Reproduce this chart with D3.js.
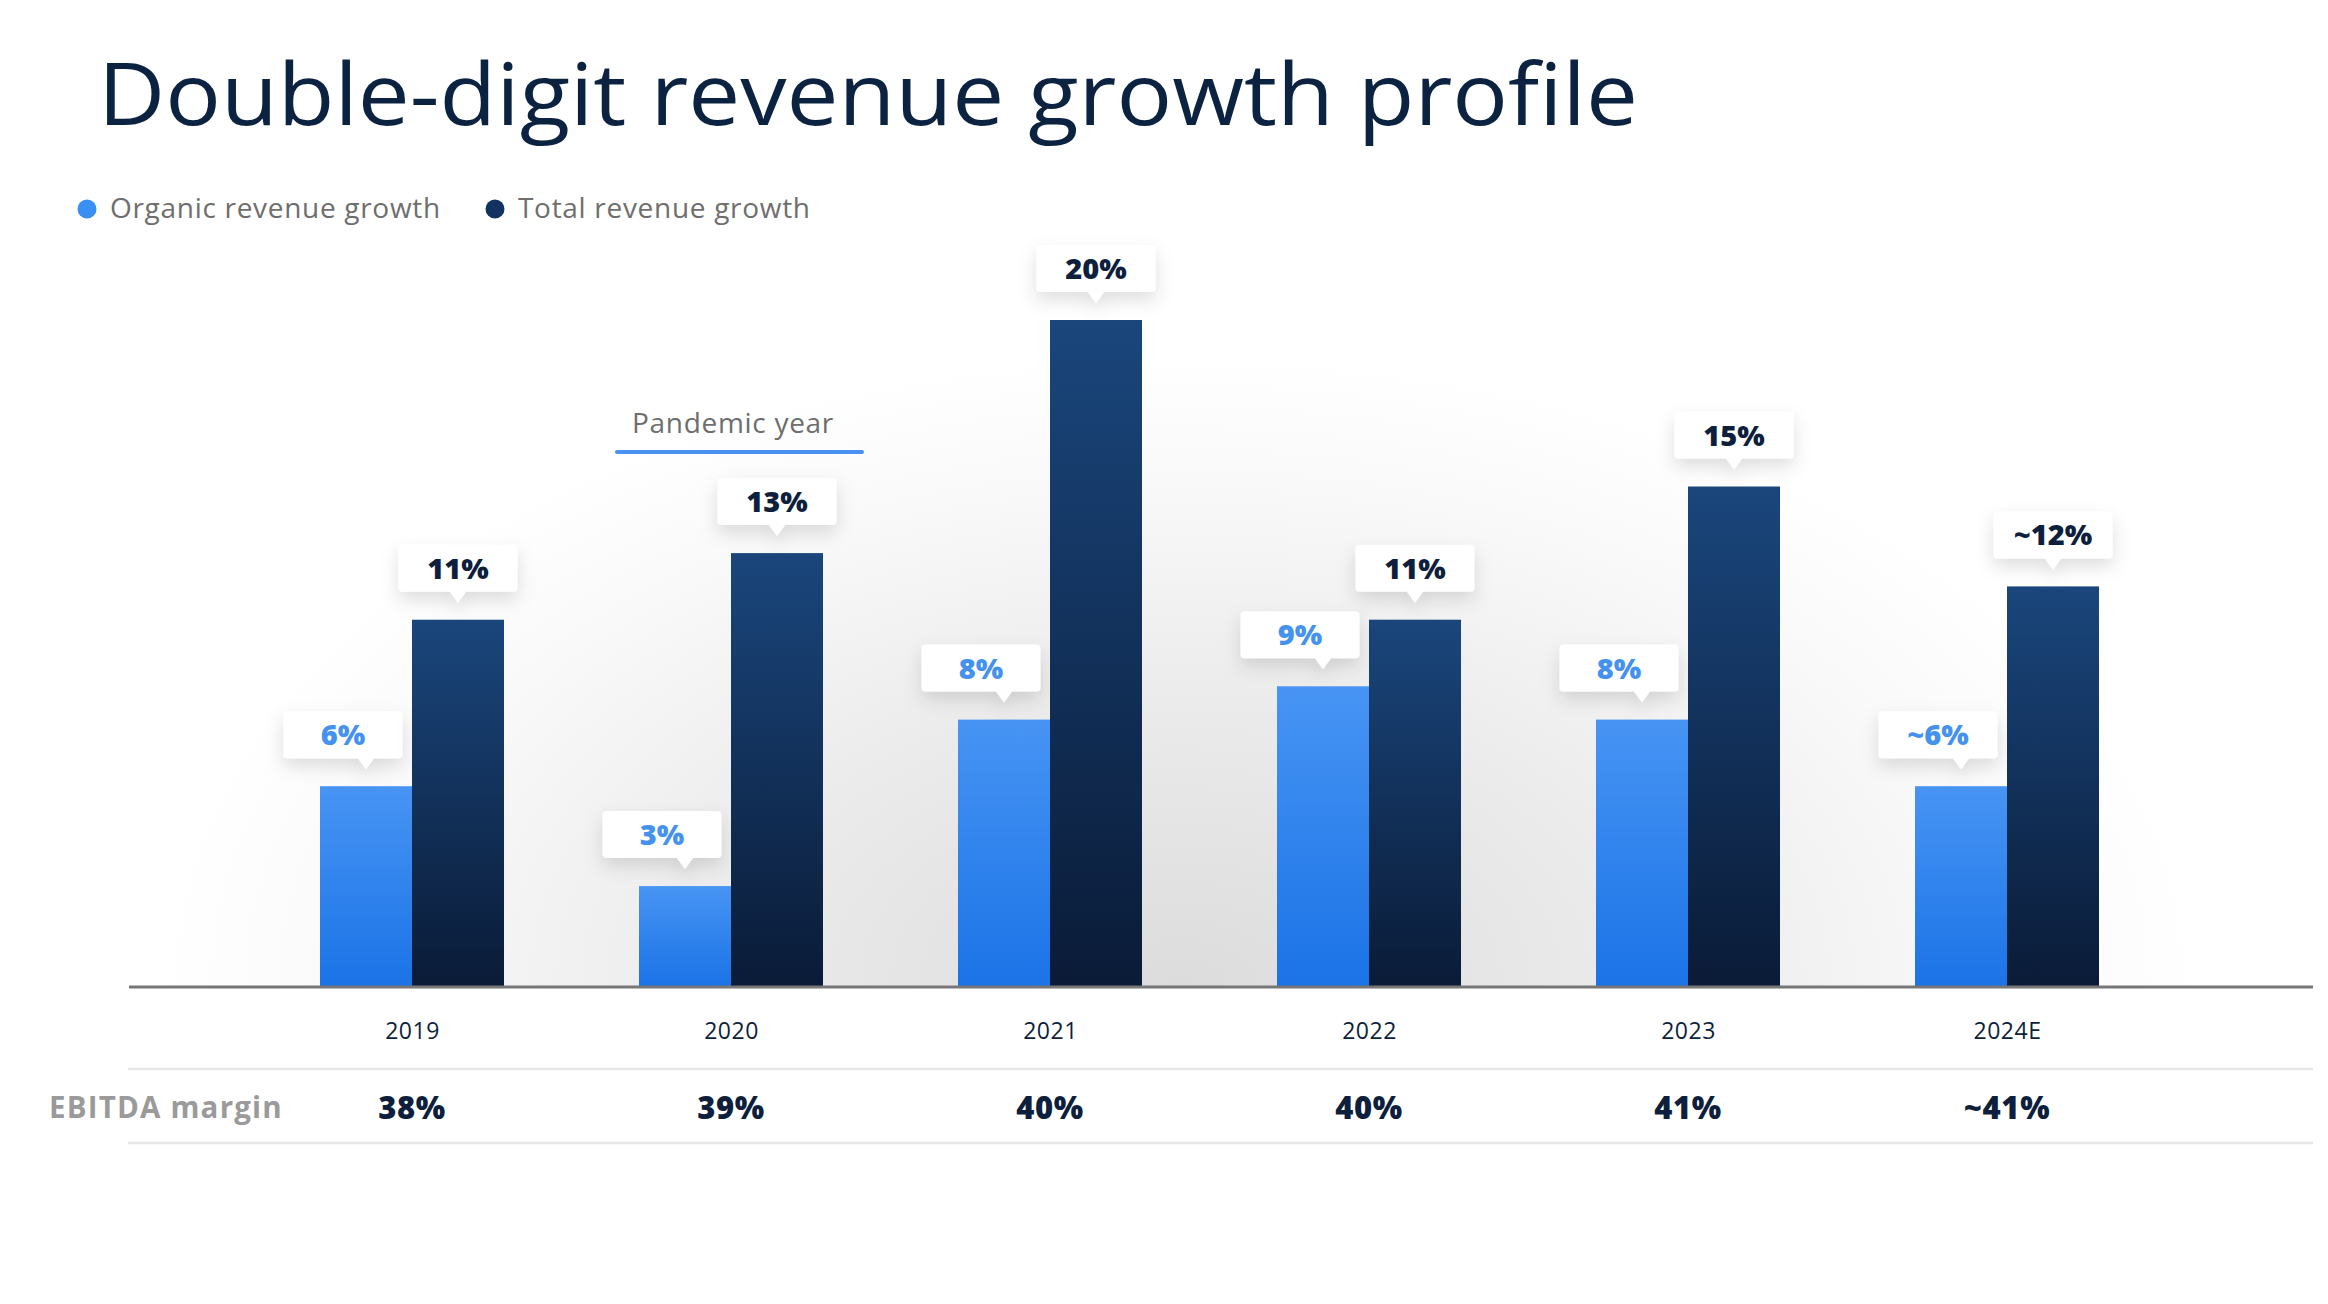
<!DOCTYPE html>
<html>
<head>
<meta charset="utf-8">
<script src="https://cdn.jsdelivr.net/npm/d3@7"></script>
<style>
  html, body { margin: 0; padding: 0; background: #ffffff; }
  svg { display: block; }
</style>
</head>
<body>
<div id="chart"></div>
<script>
// ---- Data ----
const years = ["2019", "2020", "2021", "2022", "2023", "2024E"];
const organicGrowth = [6, 3, 8, 9, 8, 6];
const totalGrowth = [11, 13, 20, 11, 15, 12];
const organicLabels = ["6%", "3%", "8%", "9%", "8%", "~6%"];
const totalLabels = ["11%", "13%", "20%", "11%", "15%", "~12%"];
const ebitdaMargin = ["38%", "39%", "40%", "40%", "41%", "~41%"];
const seriesNames = ["Organic revenue growth", "Total revenue growth"];
const yDomain = [0, 20];

// ---- Layout ----
const W = 2328, H = 1304;
const FONT = "'Open Sans', 'Noto Sans', sans-serif";
const NAVY = "#0d1f3c";
const BLUE_TXT = "#4592ee";
const baseY = 986;

const svg = d3.select("#chart").append("svg")
  .attr("width", W).attr("height", H)
  .attr("viewBox", `0 0 ${W} ${H}`);

const defs = svg.append("defs");

// background glow
const glow = defs.append("radialGradient").attr("id", "glow")
  .attr("gradientUnits", "userSpaceOnUse")
  .attr("cx", 1180).attr("cy", 986).attr("r", 1020)
  .attr("gradientTransform", "translate(1180,986) scale(1,0.62) translate(-1180,-986)");
glow.append("stop").attr("offset", "0%").attr("stop-color", "#dcdcdc");
glow.append("stop").attr("offset", "45%").attr("stop-color", "#ebebeb");
glow.append("stop").attr("offset", "80%").attr("stop-color", "#f9f9f9");
glow.append("stop").attr("offset", "100%").attr("stop-color", "#ffffff");

const gOrg = defs.append("linearGradient").attr("id", "gOrg").attr("x1", 0).attr("y1", 0).attr("x2", 0).attr("y2", 1);
gOrg.append("stop").attr("offset", "0%").attr("stop-color", "#4794f4");
gOrg.append("stop").attr("offset", "100%").attr("stop-color", "#1b73e6");
const gTot = defs.append("linearGradient").attr("id", "gTot").attr("x1", 0).attr("y1", 0).attr("x2", 0).attr("y2", 1);
gTot.append("stop").attr("offset", "0%").attr("stop-color", "#1a467c");
gTot.append("stop").attr("offset", "100%").attr("stop-color", "#0a1b37");

const shadow = defs.append("filter").attr("id", "shadow")
  .attr("x", "-50%").attr("y", "-50%").attr("width", "200%").attr("height", "220%");
shadow.append("feDropShadow").attr("dx", 0).attr("dy", 8).attr("stdDeviation", 9)
  .attr("flood-color", "#000000").attr("flood-opacity", 0.13);

defs.append("clipPath").attr("id", "aboveBase")
  .append("rect").attr("x", 0).attr("y", 0).attr("width", W).attr("height", baseY);

svg.append("rect").attr("width", W).attr("height", H).attr("fill", "#ffffff");
svg.append("rect").attr("x", 0).attr("y", 200).attr("width", W).attr("height", baseY - 200)
  .attr("fill", "url(#glow)").attr("clip-path", "url(#aboveBase)");

// ---- Title ----
svg.append("text")
  .attr("x", 98).attr("y", 125)
  .attr("font-family", FONT).attr("font-size", 86).attr("font-weight", 400)
  .attr("fill", "#0b2341")
  .attr("textLength", 1540).attr("lengthAdjust", "spacingAndGlyphs")
  .text("Double-digit revenue growth profile");

// ---- Legend ----
const legendX = [87, 495];
const legendFill = ["#3a8ff5", "#123262"];
const legend = svg.append("g");
seriesNames.forEach((name, i) => {
  legend.append("circle").attr("cx", legendX[i]).attr("cy", 209).attr("r", 9.5).attr("fill", legendFill[i]);
  legend.append("text").attr("x", legendX[i] + 23).attr("y", 218)
    .attr("font-family", FONT).attr("font-size", 28).attr("letter-spacing", 0.7).attr("fill", "#6e6e6e")
    .text(name);
});

// ---- Scales ----
const x = d3.scalePoint().domain(years).range([412, 2007]);
const barW = 92;
const xs = d3.scaleBand().domain(["organic", "total"]).range([-barW, barW]);
const y = d3.scaleLinear().domain(yDomain).range([baseY, baseY - 20 * 33.3]);

const rows = years.map((yr, i) => ({
  year: yr,
  bars: [
    { key: "organic", v: organicGrowth[i], label: organicLabels[i], fill: "url(#gOrg)", txt: BLUE_TXT, shift: -23 },
    { key: "total", v: totalGrowth[i], label: totalLabels[i], fill: "url(#gTot)", txt: NAVY, shift: 0 }
  ]
}));

// ---- Bars ----
const groups = svg.append("g").selectAll("g").data(rows).join("g")
  .attr("transform", d => `translate(${x(d.year)},0)`);

groups.selectAll("rect.bar").data(d => d.bars).join("rect")
  .attr("class", "bar")
  .attr("x", d => xs(d.key))
  .attr("y", d => y(d.v))
  .attr("width", xs.bandwidth())
  .attr("height", d => y(0) - y(d.v))
  .attr("fill", d => d.fill);

// ---- Callout labels ----
const boxW = 119, boxH = 47, gapBox = 28, ptrH = 11, ptrHalf = 8;
const callouts = groups.selectAll("g.callout").data(d => d.bars).join("g")
  .attr("class", "callout")
  .attr("filter", "url(#shadow)");

callouts.append("path")
  .attr("fill", "#ffffff")
  .attr("d", d => {
    const cx = xs(d.key) + xs.bandwidth() / 2;
    const bx = cx + d.shift - boxW / 2;
    const bBottom = y(d.v) - gapBox;
    const bTop = bBottom - boxH;
    const r = 4;
    return [
      `M${bx + r},${bTop}`,
      `H${bx + boxW - r}`, `Q${bx + boxW},${bTop} ${bx + boxW},${bTop + r}`,
      `V${bBottom - r}`, `Q${bx + boxW},${bBottom} ${bx + boxW - r},${bBottom}`,
      `H${cx + ptrHalf}`, `L${cx},${bBottom + ptrH}`, `L${cx - ptrHalf},${bBottom}`,
      `H${bx + r}`, `Q${bx},${bBottom} ${bx},${bBottom - r}`,
      `V${bTop + r}`, `Q${bx},${bTop} ${bx + r},${bTop}`, "Z"
    ].join(" ");
  });

groups.selectAll("text.lbl").data(d => d.bars).join("text")
  .attr("class", "lbl")
  .attr("x", d => xs(d.key) + xs.bandwidth() / 2 + d.shift)
  .attr("y", d => y(d.v) - gapBox - boxH / 2 + 10.5)
  .attr("text-anchor", "middle")
  .attr("font-family", FONT).attr("font-weight", 800).attr("font-size", 29)
  .attr("fill", d => d.txt)
  .text(d => d.label);

// ---- Baseline ----
svg.append("line").attr("x1", 129).attr("x2", 2313).attr("y1", baseY + 1).attr("y2", baseY + 1)
  .attr("stroke", "#777777").attr("stroke-width", 3);

// ---- X axis labels ----
const xAxis = svg.append("g").attr("transform", `translate(0,${baseY})`)
  .call(d3.axisBottom(x).tickSize(0).tickPadding(0));
xAxis.select(".domain").remove();
xAxis.selectAll("text")
  .attr("dy", null).attr("y", 53)
  .attr("font-family", FONT).attr("font-size", 23).attr("letter-spacing", 0.5).attr("fill", NAVY);

// ---- Table separators ----
[1069, 1143].forEach(yy => {
  svg.append("line").attr("x1", 128).attr("x2", 2313).attr("y1", yy).attr("y2", yy)
    .attr("stroke", "#e6e6e6").attr("stroke-width", 2.5);
});

// ---- EBITDA margin row ----
svg.append("text").attr("x", 49).attr("y", 1118)
  .attr("font-family", FONT).attr("font-weight", 700).attr("font-size", 29.5).attr("letter-spacing", 1.2)
  .attr("fill", "#9a9a9a").text("EBITDA margin");

svg.append("g").selectAll("text").data(years).join("text")
  .attr("x", d => x(d))
  .attr("y", 1119)
  .attr("text-anchor", "middle")
  .attr("font-family", FONT).attr("font-weight", 800).attr("font-size", 31).attr("letter-spacing", 0.6)
  .attr("fill", NAVY)
  .text((d, i) => ebitdaMargin[i]);

// ---- Pandemic annotation ----
svg.append("text").attr("x", 733).attr("y", 433).attr("text-anchor", "middle")
  .attr("font-family", FONT).attr("font-size", 28).attr("letter-spacing", 0.7).attr("fill", "#6e6e6e")
  .text("Pandemic year");
svg.append("line").attr("x1", 617).attr("x2", 862).attr("y1", 452).attr("y2", 452)
  .attr("stroke", "#4a92f2").attr("stroke-width", 4).attr("stroke-linecap", "round");
</script>
</body>
</html>
